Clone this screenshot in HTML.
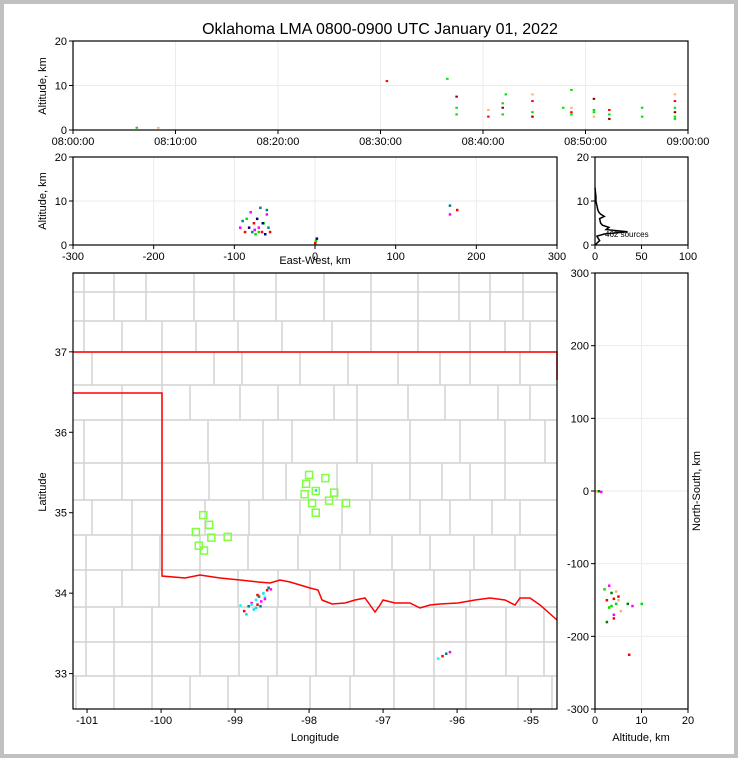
<!DOCTYPE html>
<html><head><meta charset="utf-8"><style>
body{margin:0;background:#fff}
svg{display:block;font-family:"Liberation Sans",sans-serif}
</style></head><body>
<svg id="c" width="738" height="758">
<rect x="2" y="2" width="734" height="754" fill="#fff" stroke="#c0c0c0" stroke-width="4"/>
<text x="380" y="34" font-size="16" text-anchor="middle">Oklahoma LMA 0800-0900 UTC January 01, 2022</text>
<g id="plots"></g>
<g id="map"></g>
</svg>
<script>
// ---- data ----
const timeMin=[6.2,8.3,30.6,36.5,37.4,37.4,37.4,40.5,40.5,41.9,41.9,41.9,42.2,44.8,44.8,44.8,44.8,47.8,48.6,48.6,48.6,48.6,50.8,50.8,50.8,50.8,52.3,52.3,52.3,55.5,55.5,58.7,58.7,58.7,58.7,58.7,58.7];
const timeAlt=[0.5,0.5,11,11.5,7.5,5,3.5,4.5,3,6,5,3.5,8,8,6.5,4,3,5,9,5,4,3.5,7,4.5,4,3,4.5,3.5,2.5,5,3,8,6.5,5,4,3,2.5];
const ewKm=[-93,-90,-87,-85,-82,-80,-78,-76,-74,-72,-70,-68,-66,-64,-62,-60,-58,-56,-70,-65,-75,-60,0,1,2,167,167,176];
const ewAlt=[4,5.5,3,6,4,7.5,3,5,2.5,6,4,8.5,3,5,2.5,7,4,3,3,5,3.5,8,0.5,1,1.5,7,9,8];
const sqLon=[-99.43,-99.35,-99.53,-99.32,-99.10,-99.49,-99.42,-98.00,-97.78,-98.04,-98.06,-97.91,-97.66,-97.96,-97.73,-97.50,-97.91];
const sqLat=[34.97,34.85,34.76,34.69,34.70,34.59,34.53,35.47,35.43,35.36,35.23,35.27,35.25,35.12,35.15,35.12,35.00];
const dotLon=[-98.93,-98.88,-98.82,-98.78,-98.75,-98.72,-98.70,-98.68,-98.65,-98.62,-98.60,-98.57,-98.55,-98.52,-98.85,-98.78,-98.70,-98.66,-98.60,-98.72,-96.26,-96.20,-96.15,-96.10,-97.91];
const dotLat=[33.85,33.78,33.84,33.88,33.80,33.92,33.86,33.96,33.90,34.00,33.95,34.04,34.07,34.05,33.74,33.86,33.98,33.84,33.93,33.82,33.19,33.22,33.25,33.27,35.28];
const nsAlt=[2,2.5,3,3.5,4,4.5,5,5.5,2.5,3,3.5,4,4.5,7,8,10,7.3,0.3,0.8,1.3,3,4,5];
const nsKm=[-135,-150,-160,-140,-170,-155,-145,-165,-180,-130,-158,-148,-138,-155,-158,-155,-225,0,0,-1,-160,-175,-150];
const histAlt=[0,1,2,2.5,3,3.5,4,4.5,5,6,6.5,7,7.5,8,9,10,11,12,13];
const histCnt=[0,5,2,10,35,12,15,8,6,5,10,6,4,3,2,1,1,0.5,0];
const ticksTime=["08:00:00","08:10:00","08:20:00","08:30:00","08:40:00","08:50:00","09:00:00"];
const ticksEW=[-300,-200,-100,0,100,200,300];
const ticksLon=[-101,-100,-99,-98,-97,-96,-95];
const ticksLat=[33,34,35,36,37];
const ticksNS=[-300,-200,-100,0,100,200,300];
// ---- helpers ----
const NS="http://www.w3.org/2000/svg";
const P=document.getElementById('plots'), M=document.getElementById('map');
function el(t,a,p){const e=document.createElementNS(NS,t);for(const k in a)e.setAttribute(k,a[k]);(p||P).appendChild(e);return e;}
function lin(d0,d1,r0,r1){return v=>r0+(v-d0)/(d1-d0)*(r1-r0);}
function frame(x0,y0,x1,y1,xt,xs,yt,ys,xl,name,grid){
  xt.forEach((t,i)=>{const x=xs(t);
   if(grid){let l=el('line',{x1:x,x2:x,y1:y0,y2:y1,stroke:'#ebebeb'});
   }
   el('line',{x1:x,x2:x,y1:y1,y2:y1+4,stroke:'#000'});
   let tx=el('text',{x:x,y:y1+15,'font-size':11,'text-anchor':'middle'});tx.textContent=xl?xl[i]:t;
   });
  yt.forEach(t=>{const y=ys(t);
   if(grid){let l=el('line',{x1:x0,x2:x1,y1:y,y2:y,stroke:'#ebebeb'});
   }
   el('line',{x1:x0-4,x2:x0,y1:y,y2:y,stroke:'#000'});
   let tx=el('text',{x:x0-6,y:y+4,'font-size':11,'text-anchor':'end'});tx.textContent=t;
   });
}
function border(x0,y0,x1,y1,name,p){let r=el('rect',{x:x0,y:y0,width:x1-x0,height:y1-y0,fill:'none',stroke:'#000','stroke-width':1.2},p);
  }
function label(x,y,txt,rot,name){const t=el('text',{x:x,y:y,'font-size':11,'text-anchor':'middle',transform:rot?`rotate(-90 ${x} ${y})`:''});t.textContent=txt;
 }
const cols=['#00e000','#ffb070','#ff0000','#00e000','#800000','#00e000'];
// ---- time panel ----
const tx=lin(0,60,73,688), ty=lin(0,20,130,41);
frame(73,41,688,130,[0,10,20,30,40,50,60],tx,[0,10,20],ty,ticksTime,'time-panel',true);
label(46,86,'Altitude, km',true,'time-y-title');
timeMin.forEach((m,i)=>{const r=el('rect',{x:tx(timeMin[i])-1,y:ty(timeAlt[i])-1,width:2.5,height:2,fill:cols[i%cols.length]});
 });
border(73,41,688,130,'time-panel');
// ---- EW panel ----
const ex=lin(-300,300,73,557), ey=lin(0,20,245,157);
frame(73,157,557,245,ticksEW,ex,[0,10,20],ey,null,'ew-panel',true);
label(315,264,'East-West, km',false,'ew-x-title');
label(46,201,'Altitude, km',true,'ew-y-title');
ewKm.forEach((k,i)=>{const r=el('rect',{x:ex(ewKm[i])-1,y:ey(ewAlt[i])-1,width:2.5,height:2.5,fill:['#ff00ff','#008080','#ff0000','#00e000','#000080'][i%5]});
 });
border(73,157,557,245,'ew-panel');
// ---- histogram ----
const hx=lin(0,100,595,688), hy=lin(0,20,245,157);
frame(595,157,688,245,[0,50,100],hx,[0,10,20],hy,null,'hist-panel',true);
let hd=histAlt.map((a,i)=>(i?'L':'M')+hx(histCnt[i])+','+hy(histAlt[i])).join('');
let hp=el('path',{d:hd,fill:'none',stroke:'#000','stroke-width':1.5});

let st=el('text',{x:605,y:237,'font-size':8});st.textContent='462 sources';

border(595,157,688,245,'hist-panel');
// ---- map ----
const mx=lin(-101.19,-94.65,73,557), my=lin(37.98,32.56,273,709);
// county boundaries (approximate geography, per row bands)
const bands=[[273,292],[292,321],[321,352],[352,385],[385,420],[420,463],[463,500],[500,535],[535,570],[570,607],[607,642],[642,676],[676,709]];
const bandCols=[
 [84,114,146,194,234,276,324,371,418,459,490,523],
 [84,114,146,194,234,276,324,371,418,459,490,523],
 [84,122,162,196,238,282,332,371,418,470,505,530],
 [92,162,214,242,300,348,398,440,470,520],
 [122,162,190,240,278,334,357,408,445,498,530],
 [84,122,162,208,263,292,357,410,460,505,545],
 [84,122,162,209,263,286,337,372,410,442,470,505],
 [92,132,162,205,249,300,342,370,420,450,492,520],
 [86,132,160,200,248,298,340,392,430,474,515],
 [86,122,159,200,238,278,310,354,394,434,470,520],
 [86,114,152,200,239,277,316,354,394,434,466,506,544],
 [86,114,152,200,239,277,316,354,394,434,466,506,544],
 [76,114,152,190,228,268,310,350,394,434,466,518,552]];
bands.forEach((b,i)=>{
 let h=el('line',{x1:73,x2:557,y1:b[0],y2:b[0],stroke:'#d2d2d2','stroke-width':1.5},M);
 
 bandCols[i].forEach(x=>{let l=el('line',{x1:x,x2:x,y1:b[0],y2:b[1],stroke:'#d2d2d2','stroke-width':1.5},M);
  });
});
let sb=el('path',{d:'M73,352L557,352L557,380M73,393L162,393L162,576L185,578L200,575L220,578L240,580L258,582L270,583L280,580L290,582L300,585L310,588L318,590L322,600L332,604L345,603L355,600L365,598L370,605L375,612L380,605L383,600L395,603L410,603L420,608L430,605L440,604L458,603L475,600L490,598L505,600L515,605L520,598L530,598L540,605L557,620',fill:'none',stroke:'#ff0000','stroke-width':1.5},M);

frame(73,273,557,709,ticksLon,mx,ticksLat,my,null,'map-panel',false);
label(315,741,'Longitude',false,'map-x-title');
label(46,492,'Latitude',true,'map-y-title');
sqLon.forEach((v,i)=>{const r=el('rect',{x:mx(sqLon[i])-3.5,y:my(sqLat[i])-3.5,width:7,height:7,fill:'none',stroke:'#7fff40','stroke-width':1.5},M);
 });
dotLon.forEach((v,i)=>{const r=el('rect',{x:mx(dotLon[i])-1,y:my(dotLat[i])-1,width:2.5,height:2.5,fill:['#00ffff','#ff0000','#008080','#ff00ff','#00e0e0'][i%5]},M);
 });
border(73,273,557,709,'map-panel',M);
// ---- NS panel ----
const nx=lin(0,20,595,688), ny=lin(-300,300,709,273);
frame(595,273,688,709,[0,10,20],nx,ticksNS,ny,null,'ns-panel',true);
label(641,741,'Altitude, km',false,'ns-x-title');
label(700,491,'North-South, km',true,'ns-y-title');
nsAlt.forEach((v,i)=>{const r=el('rect',{x:nx(nsAlt[i])-1,y:ny(nsKm[i])-1,width:2.5,height:2.5,fill:['#00e000','#ff0000','#ffb070','#008000','#ff00ff'][i%5]});
 });
border(595,273,688,709,'ns-panel');
</script>
</body></html>
